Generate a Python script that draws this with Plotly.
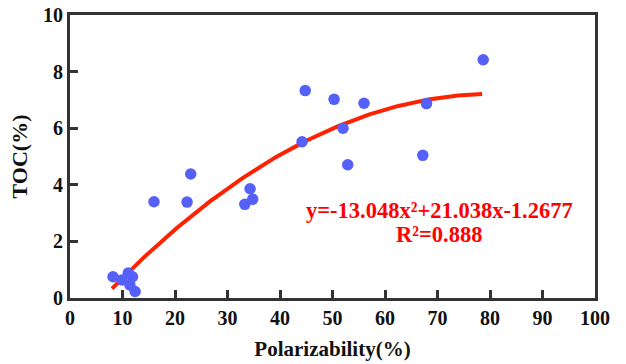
import numpy as np
import plotly.graph_objects as go

# Data
polarizability = [8.2, 9.9, 11.1, 11.9, 11.4, 12.4, 16.0, 22.3, 23.0, 33.3, 34.3, 34.8,
                  44.2, 44.8, 50.3, 52.0, 52.9, 56.0, 67.2, 67.9, 78.7]
toc = [0.75, 0.64, 0.88, 0.75, 0.46, 0.23, 3.40, 3.39, 4.38, 3.31, 3.86, 3.49,
       5.52, 7.33, 7.02, 6.00, 4.71, 6.88, 5.04, 6.87, 8.42]

# Fit coefficients as printed on the chart (x as fraction)
coef_a, coef_b, coef_c = -13.048, 21.038, -1.2677
fit_x_range = [8.0, 78.5]

xf = np.linspace(fit_x_range[0], fit_x_range[1], 200)
u = xf / 100.0
yf = coef_a * u**2 + coef_b * u + coef_c

FONT = "Liberation Serif"
AX = "#333333"

fig = go.Figure()
fig.add_trace(go.Scatter(x=xf, y=yf, mode="lines",
                         line=dict(color="#FF2200", width=4), showlegend=False))
fig.add_trace(go.Scatter(x=polarizability, y=toc, mode="markers",
                         marker=dict(color="#5560F8", size=11.5, line=dict(width=0)),
                         showlegend=False))

fig.add_annotation(x=70.3, y=3.09, xref="x", yref="y",
                   text="<b>y=-13.048x²+21.038x-1.2677</b>",
                   showarrow=False, font=dict(family=FONT, size=22.5, color="#FF0000"))
fig.add_annotation(x=70.3, y=2.24, xref="x", yref="y",
                   text="<b>R²=0.888</b>",
                   showarrow=False, font=dict(family=FONT, size=22.5, color="#FF0000"))

fig.update_layout(
    width=626, height=364,
    margin=dict(l=70, r=31, t=15, b=66),
    paper_bgcolor="white", plot_bgcolor="white",
    font=dict(family=FONT, size=20, color="#111111"),
    xaxis=dict(range=[0, 100], tickvals=list(range(0, 101, 10)), automargin=False,
               showline=True, linecolor=AX, linewidth=3, mirror=True,
               ticks="inside", ticklen=8, tickwidth=2.5, tickcolor=AX,
               showgrid=False, zeroline=False,
               tickfont=dict(family=FONT, size=20, color="#111111", weight="bold"),
               title=dict(text="<b>Polarizability(%)</b>", font=dict(family=FONT, size=21), standoff=14)),
    yaxis=dict(range=[0, 10], tickvals=list(range(0, 11, 2)), automargin=False,
               showline=True, linecolor=AX, linewidth=3, mirror=True,
               ticks="inside", ticklen=8, tickwidth=2.5, tickcolor=AX,
               showgrid=False, zeroline=False,
               tickfont=dict(family=FONT, size=20, color="#111111", weight="bold"),
               title=dict(text="<b>TOC(%)</b>", font=dict(family=FONT, size=22), standoff=10)),
)

fig.write_html("out.html")
